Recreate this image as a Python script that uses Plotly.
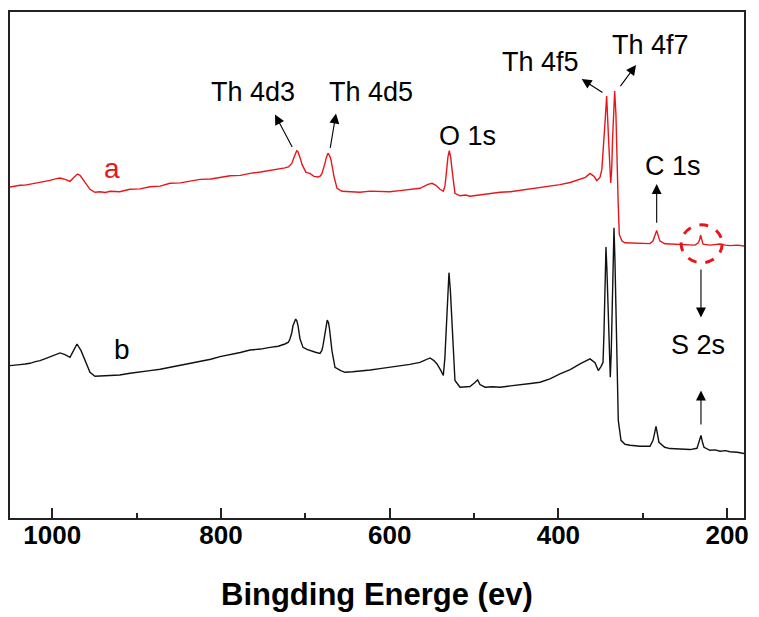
import plotly.graph_objects as go

# ---- data (binding energy in eV, intensity in a.u.) ----
energy_a = [1050, 1044, 1038.1, 1032, 1026.3, 1020, 1014.4, 1008, 1002.6, 996, 990.7, 984.8, 978.9,
            974.1, 970.0, 967.0, 961.1, 955.2, 949.3, 943.3, 937, 931.5, 920, 907.8, 896, 884.1,
            872, 860.4, 848, 836, 824.8, 812, 801.1, 789, 777, 765.5, 753, 741.8, 732, 724.1,
            720, 716, 713.4, 711.5, 710.2, 708.8, 707.5, 705.5, 703.9, 701.5, 699.2, 694.5,
            689.7, 685.0, 682, 680.2, 678.5, 676.7, 675, 673.1, 671.4, 669.6, 666.0, 662.4,
            656.5, 646, 635.2, 623, 611.5, 600, 587.8, 576, 564.1, 554.6, 549.8, 545.1, 540.3,
            536.4, 534.5, 533.2, 531, 529.3, 527.6, 526.1, 522.6, 516.6, 510, 504.8, 498,
            492.9, 481, 469.2, 457, 445.5, 433, 421.8, 410, 398.1, 386, 374.4, 368, 362.5,
            357.8, 354.6, 350.7, 348.5, 346.8, 344.5, 342.8, 341.5, 340.4, 338.0, 336.8, 335.9,
            334.5, 333.3, 331.8, 330.6, 329.2, 327.8, 324.6, 321.1, 312, 303.3, 297, 291.4,
            287.9, 285.5, 283.5, 281.5, 279.6, 273.7, 265, 255.9, 247, 238.1, 234.5, 232.7,
            231.4, 230.0, 228.6, 220.3, 214, 208.5, 202, 196.6, 188, 180.0]
counts_a = [332.3, 333.5, 334, 334.2, 335, 336.5, 337, 337.8, 339, 340.5, 341.3, 340, 338,
            342, 345.3, 344, 337, 330, 327, 327.5, 326.8, 328, 327.6, 330, 330.4, 332.5,
            333.2, 336, 336.4, 338.6, 340, 340.4, 342, 343.6, 344, 346, 347.4, 349, 350, 351.5,
            352.5, 356, 362, 367, 368.7, 368, 365.5, 360, 355, 350, 347, 346,
            343, 342.3, 343.5, 346, 350, 356, 362, 366.3, 364, 360, 343, 331,
            328, 327.4, 327, 328.2, 328, 327.6, 328.7, 330, 331, 335, 336, 334, 330,
            328, 333, 343, 362, 368.7, 362, 350, 326, 323.5, 324.2, 323, 323.8,
            324.7, 325.4, 327, 327.6, 329, 330, 331.3, 332.6, 334.7, 336.8, 339.7, 342, 346,
            343, 338.7, 342, 350, 368, 400, 423.7, 405, 378, 336.3, 350, 378,
            410, 428.7, 405, 358, 318, 284.7, 278, 276.3, 276, 275.5, 275.6, 275.5,
            278, 283, 288.7, 283, 278, 275.3, 275, 274.5, 274.8, 274, 276, 279,
            284, 279, 275, 274, 274.6, 275, 274, 273.5, 274, 273]

energy_b = [1050, 1044, 1038.1, 1032, 1026.3, 1020, 1014.4, 1008, 1002.6, 996, 990.7, 984.8, 978.9,
            974.1, 970.6, 965.8, 959.9, 955.2, 949.3, 940, 931.5, 920, 907.8, 896, 884.1, 872,
            860.4, 848, 836, 824.8, 812, 801.1, 789, 777, 765.5, 753, 741.8, 732, 724.1, 720,
            718.1, 716, 714.6, 712.8, 711.4, 710, 708.6, 706.3, 702.7, 698, 694.5, 688, 682.6,
            680.5, 679.0, 677.5, 676.1, 674.0, 672.5, 671.3, 668.4, 664.8, 658, 652.9, 644,
            635.2, 623, 611.5, 599.6, 588, 576, 564.1, 552.2, 547.5, 543.9, 539.2, 536.4, 534.6,
            533.2, 531.5, 529.7, 528, 526.1, 522.6, 516.6, 510, 504.8, 498.9, 495.7, 492.9, 487.0,
            478, 469.2, 457, 445.5, 433, 421.8, 410, 398.1, 386, 374.4, 368, 362.5, 356.6,
            352.7, 349.5, 347.1, 346, 345.1, 344.3, 343.6, 342.5, 341.2, 338.5, 337.4, 336.5,
            335.3, 334.1, 333, 331.8, 329.0, 325.8, 321.1, 315.1, 303.3, 291.4, 287.9, 286, 284.3,
            282.5, 280.8, 274, 267.7, 256, 244.0, 235.7, 233.2, 231.0, 229.2, 227.4, 220.3,
            214, 208.5, 202, 196.6, 188, 180.0]
counts_b = [153, 153.8, 154, 154.6, 155.3, 157, 158, 160, 162, 164.5, 165.7, 164, 161.3,
            169, 174.7, 168, 156, 146.3, 142.3, 142.6, 143, 143.6, 145.3, 146.4, 148, 149.4,
            151.3, 153.2, 155.6, 157.3, 159.4, 162, 163.8, 166.2, 168.7, 169.6, 171.3, 172.4, 174.7, 176.5,
            180, 186, 193, 198, 199.7, 198, 193, 180, 171.3, 169.2, 168, 166.4, 165.3,
            168, 173, 182, 190, 198.7, 196, 190, 168, 151.3, 148, 146.3, 146.8,
            147.3, 148.6, 150, 151.3, 153, 154.2, 156.3, 160.7, 158, 154.7, 148, 143, 160,
            188, 225, 246.3, 228, 198, 138, 131.3, 131.8, 132, 136, 138.7, 134, 131.3,
            131.8, 131.3, 132.6, 133.5, 135, 136.3, 139.6, 144.7, 149, 154.7, 157, 159.7, 156,
            148, 152, 156.3, 185, 218, 250, 272, 250, 208, 141.3, 165, 198,
            250, 291.3, 260, 218, 98, 78, 74, 73, 72, 72, 78, 85, 92,
            84, 76, 71, 69.7, 69.2, 68.7, 70, 76, 83, 76, 71, 68,
            68.4, 67, 67.6, 66.5, 66, 64.7]

x_ticks = [1000, 800, 600, 400, 200]
x_minor_ticks = [900, 700, 500, 300]
x_title = "Bingding Energe (ev)"

# peak labels: (text, x, y)
labels = [("Th 4d3", 761.4, 427.5), ("Th 4d5", 622.1, 427.5), ("O 1s", 507.2, 383.5),
          ("Th 4f5", 421.2, 458), ("Th 4f7", 290.3, 475), ("C 1s", 264.2, 353),
          ("S 2s", 234.5, 173.3)]
# arrows: (head x, head y, tail x, tail y)
arrows = [(735.9, 405, 714.6, 371), (663.6, 406, 670.7, 370), (372.4, 440.7, 346.0, 426.3),
          (308.0, 454.7, 327.8, 432), (283.5, 335.3, 283.5, 295), (231.0, 201.3, 231.0, 251),
          (231.0, 128, 231.0, 92.3)]

RED = "#e8161b"
FONT = "Liberation Sans, Arial"

fig = go.Figure()
fig.add_trace(go.Scatter(x=energy_a, y=counts_a, mode="lines",
                         line=dict(color=RED, width=1.4), showlegend=False))
fig.add_trace(go.Scatter(x=energy_b, y=counts_b, mode="lines",
                         line=dict(color="#111111", width=1.4), showlegend=False))

for t, x, y in labels:
    fig.add_annotation(x=x, y=y, text=t, showarrow=False,
                       font=dict(family=FONT, size=27, color="black"))
fig.add_annotation(x=929.5, y=350.5, text="a", showarrow=False,
                   font=dict(family=FONT, size=28, color=RED))
fig.add_annotation(x=916.7, y=169.5, text="b", showarrow=False,
                   font=dict(family=FONT, size=28, color="black"))

for hx, hy, tx, ty in arrows:
    fig.add_annotation(x=hx, y=hy, ax=tx, ay=ty, xref="x", yref="y", axref="x", ayref="y",
                       text="", showarrow=True, arrowhead=2, arrowsize=1.8, arrowwidth=1.1,
                       arrowcolor="black", standoff=0, startstandoff=0)

fig.add_shape(type="circle", xref="x", yref="y", x0=254.5, x1=205.9, y0=256.3, y1=294.3,
              line=dict(color=RED, width=3, dash="dash"))

# axis title
fig.add_annotation(x=0.5, y=-0.1516, xref="paper", yref="paper", text="<b>" + x_title + "</b>",
                   showarrow=False, yanchor="middle",
                   font=dict(family=FONT, size=31, color="black"))

fig.update_layout(
    width=759, height=617,
    margin=dict(l=10, r=15, t=10, b=99),
    paper_bgcolor="white", plot_bgcolor="white",
    xaxis=dict(range=[1050, 180], tickvals=x_ticks, ticks="inside", ticklen=10, tickwidth=1.5,
               tickcolor="#222", showline=True, linecolor="#222", linewidth=2, mirror=True,
               showgrid=False, zeroline=False, ticklabelstandoff=-7,
               tickfont=dict(family=FONT, size=26, color="black", weight="bold"),
               minor=dict(tickvals=x_minor_ticks, ticks="inside", ticklen=5, tickwidth=1.5,
                          tickcolor="#222", showgrid=False)),
    yaxis=dict(range=[0, 508], showticklabels=False, ticks="", showline=True, linecolor="#222",
               linewidth=2, mirror=True, showgrid=False, zeroline=False),
)

fig.write_html("out.html", post_script="document.body.style.margin='0';",
               config={"displayModeBar": False})
